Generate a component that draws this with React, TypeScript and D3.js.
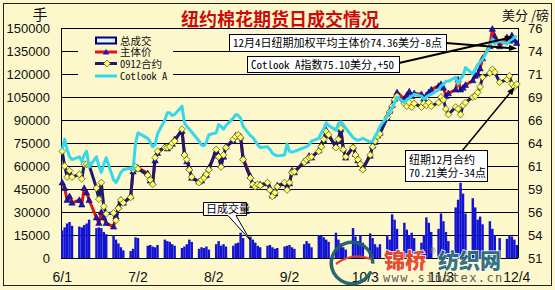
import React from "react";
import * as d3 from "d3";

// ---- categories (trading days, 2009) ----
const dates: string[] = [
  "6/1","6/2","6/3","6/4","6/5","6/8","6/9","6/10","6/11","6/12","6/15","6/16","6/17","6/18","6/19","6/22","6/23","6/24","6/25","6/26","6/29","6/30",
  "7/1","7/2","7/6","7/7","7/8","7/9","7/10","7/13","7/14","7/15","7/16","7/17","7/20","7/21","7/22","7/23","7/24","7/27","7/28","7/29","7/30","7/31",
  "8/3","8/4","8/5","8/6","8/7","8/10","8/11","8/12","8/13","8/14","8/17","8/18","8/19","8/20","8/21","8/24","8/25","8/26","8/27","8/28","8/31",
  "9/1","9/2","9/3","9/4","9/8","9/9","9/10","9/11","9/14","9/15","9/16","9/17","9/18","9/21","9/22","9/23","9/24","9/25","9/28","9/29","9/30",
  "10/1","10/2","10/5","10/6","10/7","10/8","10/9","10/12","10/13","10/14","10/15","10/16","10/19","10/20","10/21","10/22","10/23","10/26","10/27","10/28","10/29","10/30",
  "11/2","11/3","11/4","11/5","11/6","11/9","11/10","11/11","11/12","11/13","11/16","11/17","11/18","11/19","11/20","11/23","11/24","11/25","11/27","11/30",
  "12/1","12/2","12/3","12/4",
];

// 总成交 (手)
const volume: number[] = [
  18000,20000,22500,23500,21000, 20500,20000,21500,22500,25000, 19500,20000,19500,17000,15500, 15000,12000,9500,7000,5000, 4500,6000,
  13500,13000, 8000,8500,7500,7000,8500, 12000,11000,10500,9000,8000, 6500,7500,9000,12000,10500, 6000,7000,6500,7500,5500,
  9000,11000,8000,9000,7500, 8000,9500,10000,16500,13000, 14000,12000,10000,8000,7000, 8000,8500,7000,6000,6500, 7500,
  8000,8500,7000,6000, 9000,11000,9500,7000, 15000,14500,13500,12000,10500, 16500,12000,9500,7000,5500, 19500,14000,11000,
  15000,10000, 16000,13000,9000,7000,9000, 15000,12000,28500,25000,19000, 23000,18500,15000,16500,13000, 10000,15000,26500,23000,17000,
  19000,29000,24000,17000,11000, 33000,38000,49000,42000,29000, 39000,33000,25000,27000,22000, 24000,19000,15000,13000, 12500,
  15000,14000,12000,8500,
];

// 主体价 (美分/磅)
const mainPrice: number[] = [
  59.2,58.6,57.3,57.7,57.0, 57.3,56.8,58.6,58.1,57.3, 55.4,54.8,56.0,55.4,54.8, 54.4,55.5,56.6,57.3,57.0, 57.7,60.4,
  60.7,60.8, 60.2,59.4,59.2,61.6,62.4, 63.1,62.9,63.2,63.4,63.9, 64.8,62.4,61.5,60.8,59.7, 59.3,59.4,59.9,60.0,60.8,
  62.6,62.1,61.1,62.0,63.1, 63.7,64.3,64.3,64.2,61.9, 59.9,58.9,58.9,58.9,59.0, 59.1,58.6,57.8,58.0,58.9, 59.1,
  58.6,59.1,60.5,60.3, 61.5,61.6,62.1,61.9, 62.7,63.3,63.8,64.9,64.3, 63.2,63.8,65.0,62.9,61.9, 63.1,62.3,61.6,
  61.3,60.8, 62.1,63.2,63.6,64.3,64.6, 66.2,67.0,67.6,68.3,69.0, 68.3,68.7,69.1,68.6,68.9, 68.8,68.3,68.7,69.0,69.3,
  69.7,69.9,69.5,68.6,68.9, 69.3,70.4,69.3,69.5,69.8, 70.3,70.8,71.0,71.6,72.7, 74.0,75.9,75.1,74.0, 75.0,
  74.6,75.2,74.7,74.36,
];

// 0912合约 (美分/磅)
const contract0912: number[] = [
  62.6,61.0,59.8,60.5,59.8, 60.1,59.6,61.2,61.2,61.1, 58.6,57.4,59.2,56.6,55.8, 55.9,55.1,56.4,57.3,57.0, 57.6,60.6,
  60.9,60.7, 60.0,59.5,59.0,61.9,62.6, 63.0,63.0,63.1,63.5,63.7, 65.0,62.2,61.7,60.6,59.8, 59.2,59.5,59.7,60.1,60.6,
  62.8,62.0,60.9,62.2,63.0, 63.9,64.2,64.4,64.1,61.7, 59.7,59.0,58.75,59.0,58.9, 59.2,58.4,57.7,58.1,58.75, 59.2,
  58.4,59.2,60.3,60.4, 61.4,61.7,61.9,62.0, 62.6,63.1,63.9,64.75,64.4, 63.0,63.9,65.1,62.8,62.0, 63.0,62.2,61.7,
  61.2,60.6, 62.2,63.1,63.7,64.2,64.5, 66.3,66.9,67.5,68.2,68.6, 67.8,67.5,67.9,67.4,67.8, 67.4,67.8,67.6,67.9,67.5,
  67.9,68.5,68.2,67.2,66.6, 67.4,67.2,66.6,67.6,67.9, 68.5,68.6,69.0,69.6,70.65, 71.1,71.5,71.2,70.1, 70.4,
  70.8,69.9,69.6,69.9,
];

// Cotlook A (美分/磅)
const cotlookA: number[] = [
  62.8,63.9,62.8,62.0,61.7, 62.0,61.5,62.2,62.6,60.9, 62.0,61.0,60.3,61.2,61.9, 59.5,59.2,59.7,60.3,60.6, 60.8,60.6,
  63.5,64.6, 64.0,63.6,63.1,63.3,64.5, 66.0,66.8,66.8,66.5,66.6, 67.5,65.7,65.3,65.0,64.7, 63.7,63.3,63.2,63.6,64.4,
  64.6,65.5,65.3,65.0,65.4, 66.2,66.6,66.5,66.2,65.3, 64.3,64.1,63.7,63.3,63.0, 63.1,62.8,62.4,62.2,62.1, 62.2,
  63.4,62.6,62.5,62.6, 63.0,63.1,63.3,63.7, 64.0,64.6,65.0,65.7,65.4, 64.9,65.6,65.8,65.5,65.1, 64.1,63.9,63.8,
  63.9,64.0, 63.6,63.7,64.2,64.7,65.3, 66.4,66.9,67.4,67.9,68.5, 67.9,68.2,68.4,68.6,68.8, 68.6,68.25,68.5,68.7,68.8,
  69.3,69.7,69.9,70.2,70.2, 70.65,69.9,70.5,70.8,71.7, 71.0,71.5,72.0,72.3,72.6, 74.0,74.8,74.3,74.6, 74.25,
  74.6,74.8,75.0,75.1,
];

// ---- axes ----
const leftTicks: number[] = [0, 15000, 30000, 45000, 60000, 75000, 90000, 105000, 120000, 135000, 150000];
const rightTicks: number[] = [51, 53.5, 56, 58.5, 61, 63.5, 66, 68.5, 71, 73.5, 76];
const rightTickLabels: string[] = ["51", "54", "56", "59", "61", "64", "66", "69", "71", "74", "76"];
const xTickLabels: string[] = ["6/1", "7/2", "8/2", "9/2", "10/3", "11/3", "12/4"];

const legendNames: string[] = ["总成交", "主体价", "0912合约", "Cotlook A"];
const titleText = "纽约棉花期货日成交情况";
const note1 = "12月4日纽期加权平均主体价74.36美分-8点";
const note2 = "Cotlook A指数75.10美分,+50";
const note3a = "纽期12月合约";
const note3b = "70.21美分-34点";
const note4 = "日成交量";

const W = 555;
const H = 290;
const PL = 61, PR = 518, PT = 28, PB = 258;

const BG = "#FCF8CC";
const BAR = "#1212D4";
const RED = "#E01414";
const NAVY = "#1C1C6E";
const CYAN = "#36D6EC";

const parse = (s: string) => {
  const [m, d] = s.split("/").map(Number);
  return new Date(2009, m - 1, d);
};

const MONO = "'Noto Sans Mono CJK SC', 'Noto Sans CJK SC', monospace";
const CJK = "'Noto Sans CJK SC', sans-serif";
const SANS = "'Liberation Sans', Arial, sans-serif";

export default function App() {
  const dts = dates.map(parse);
  const x = d3
    .scaleTime()
    .domain([new Date(2009, 4, 31, 12), new Date(2009, 11, 4, 12)])
    .range([PL, PR]);
  const dayW = x(new Date(2009, 5, 2)) - x(new Date(2009, 5, 1));
  const yL = d3.scaleLinear().domain([0, 150000]).range([PB, PT]);
  const yR = d3.scaleLinear().domain([51, 76]).range([PB, PT]);

  const line = d3
    .line<number>()
    .x((_, i) => x(dts[i]))
    .y((v) => yR(v));

  const tri = (cx: number, cy: number) =>
    `M${cx},${cy - 3.3}L${cx + 3.2},${cy + 2.4}L${cx - 3.2},${cy + 2.4}Z`;
  const dia = (cx: number, cy: number) =>
    `M${cx},${cy - 3.4}L${cx + 3.4},${cy}L${cx},${cy + 3.4}L${cx - 3.4},${cy}Z`;

  const arrow = (x1: number, y1: number, x2: number, y2: number, w: number) => {
    const a = Math.atan2(y2 - y1, x2 - x1);
    const L = 8, S = 3.2;
    const bx = x2 - L * Math.cos(a), by = y2 - L * Math.sin(a);
    const p1 = [bx + S * Math.sin(a), by - S * Math.cos(a)];
    const p2 = [bx - S * Math.sin(a), by + S * Math.cos(a)];
    return (
      <g>
        <line x1={x1} y1={y1} x2={bx} y2={by} stroke="#000" strokeWidth={w} />
        <path d={`M${x2},${y2}L${p1[0]},${p1[1]}L${p2[0]},${p2[1]}Z`} fill="#000" />
      </g>
    );
  };

  const last = dts.length - 1;

  return (
    <svg
      width={W}
      height={H}
      viewBox={`0 0 ${W} ${H}`}
      style={{ position: "absolute", left: 0, top: 0, display: "block" }}
    >
      <rect x={0} y={0} width={W} height={H} fill={BG} />
      <rect x={3.5} y={3.5} width={548} height={282} fill="none" stroke="#222" strokeWidth={1} />

      {/* title */}
      <text x={280} y={26} textAnchor="middle" fontFamily={CJK} fontWeight={700} fontSize={18} fill="#CC0A0A">
        {titleText}
      </text>
      <text x={40} y={20} textAnchor="middle" fontFamily={CJK} fontSize={15} fill="#111">手</text>
      <text x={502} y={20} fontFamily={CJK} fontSize={13} fill="#111">美分 /磅</text>

      {/* gridlines */}
      {leftTicks.map((t) => (
        <line key={t} x1={PL} x2={PR} y1={Math.round(yL(t)) + 0.5} y2={Math.round(yL(t)) + 0.5} stroke="#000" strokeWidth={1} />
      ))}
      <line x1={PL + 0.5} x2={PL + 0.5} y1={PT} y2={PB} stroke="#000" />
      <line x1={PR + 0.5} x2={PR + 0.5} y1={PT} y2={PB} stroke="#000" />

      {/* left axis labels */}
      {leftTicks.map((t) => (
        <text key={t} x={50} y={yL(t) + 5} textAnchor="end" fontFamily={SANS} fontSize={13} fill="#111">
          {t}
        </text>
      ))}
      {/* right axis labels */}
      {rightTicks.map((t, i) => (
        <text key={t} x={528} y={yR(t) + 5} fontFamily={SANS} fontSize={13} fill="#111">
          {rightTickLabels[i]}
        </text>
      ))}
      {/* x labels */}
      {xTickLabels.map((s) => (
        <text key={s} x={x(parse(s))} y={282} textAnchor="middle" fontFamily={SANS} fontSize={14} fill="#111">
          {s}
        </text>
      ))}

      {/* volume bars */}
      {volume.map((v, i) => (
        <rect key={i} x={x(dts[i]) - dayW / 2} y={yL(v)} width={dayW} height={PB - yL(v)} fill={BAR} />
      ))}

      {/* lines */}
      <path d={line(mainPrice) || ""} fill="none" stroke={RED} strokeWidth={3} strokeLinejoin="round" />
      <path d={line(contract0912) || ""} fill="none" stroke={NAVY} strokeWidth={3} strokeLinejoin="round" />
      {mainPrice.map((v, i) => (
        <path key={"t" + i} d={tri(x(dts[i]), yR(v))} fill="#1818B8" stroke="#00005A" strokeWidth={0.5} />
      ))}
      {contract0912.map((v, i) => (
        <path key={"d" + i} d={dia(x(dts[i]), yR(v))} fill="#FFFF70" stroke="#4A4A10" strokeWidth={0.7} />
      ))}
      <path d={line(cotlookA) || ""} fill="none" stroke={CYAN} strokeWidth={3} strokeLinejoin="round" />

      {/* legend */}
      <rect x={78} y={32} width={95} height={51} fill={BG} />
      <rect x={96} y={37.5} width={20} height={6} fill="#E4F6FF" stroke="#000080" strokeWidth={2} />
      <line x1={95} x2={117} y1={52} y2={52} stroke={RED} strokeWidth={3} />
      <path d={tri(106, 52)} fill="#1818B8" />
      <line x1={95} x2={117} y1={63.5} y2={63.5} stroke={NAVY} strokeWidth={3} />
      <path d={dia(107, 63.5)} fill="#FFFF70" stroke="#4A4A10" strokeWidth={0.7} />
      <line x1={95} x2={117} y1={76} y2={76} stroke={CYAN} strokeWidth={3} />
      {legendNames.map((n, i) => (
        <text key={n} x={120} y={[44.5, 56, 67.5, 80][i]} fontFamily={MONO} fontSize={10.5} fill="#111">
          {n}
        </text>
      ))}

      {/* annotations */}
      {arrow(446, 43, 517, 48.5, 2)}
      {arrow(399, 63, 513, 37, 2)}
      {arrow(462, 151, x(dts[last]) - 2, yR(contract0912[last]) + 3, 1.5)}
      <rect x={229.5} y={34.5} width={217} height={17} fill="#fff" stroke="#000" />
      <text x={233} y={47} fontFamily={MONO} fontSize={11} fill="#000">{note1}</text>
      <rect x={247.5} y={56.5} width={152} height={16} fill="#fff" stroke="#000" />
      <text x={251} y={68.5} fontFamily={MONO} fontSize={11} fill="#000">{note2}</text>
      <rect x={405.5} y={150.5} width={82} height={31} fill="#fff" stroke="#000" />
      <text x={409} y={164} fontFamily={MONO} fontSize={11} fill="#000">{note3a}</text>
      <text x={409} y={177} fontFamily={MONO} fontSize={11} fill="#000">{note3b}</text>
      <path d="M203.5,202.5H246.5V215.5H236L250,240L228,215.5H203.5Z" fill="#fff" stroke="#000" />
      <text x={206} y={213} fontFamily={MONO} fontSize={11} fill="#000">{note4}</text>

      {/* watermark */}
      <g opacity={0.95}>
        <path
          d={d3.arc()({ innerRadius: 19, outerRadius: 22.5, startAngle: 2.0, endAngle: 2 * Math.PI + 1.6 }) || ""}
          transform="translate(352,263)"
          fill="#1F5E6C"
        />
        <path d="M336,264 Q352,252 371,259" fill="none" stroke="#E2402A" strokeWidth={2.2} />
        <text x={384} y={268} fontFamily={CJK} fontWeight={900} fontSize={21} fill="#E8461E" stroke="#fff" strokeWidth={1.5} paintOrder="stroke">
          锦桥
        </text>
        <text x={429} y={254} fontFamily={SANS} fontSize={9} fill="#777">®</text>
        <text x={438} y={268} fontFamily={CJK} fontWeight={900} fontSize={21} fill="#2C6C78" stroke="#fff" strokeWidth={1.5} paintOrder="stroke">
          纺织网
        </text>
        <text x={383} y={282} fontFamily="'DejaVu Sans Mono', monospace" fontSize={12} letterSpacing={1.4} fill="#555">
          www.sinotex.cn
        </text>
      </g>
    </svg>
  );
}
